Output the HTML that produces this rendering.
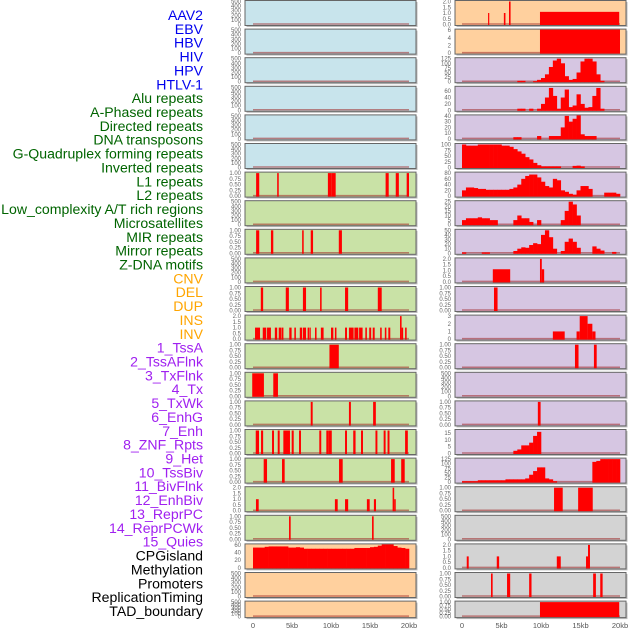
<!DOCTYPE html>
<html><head><meta charset="utf-8"><style>
html,body{margin:0;padding:0;background:#fff;}
svg{display:block;font-family:"Liberation Sans",sans-serif;}
</style></head><body>
<svg id="chart" width="630" height="630" viewBox="0 0 630 630"></svg>
<script>
const labels = ["AAV2","EBV","HBV","HIV","HPV","HTLV-1","Alu repeats","A-Phased repeats","Directed repeats","DNA transposons","G-Quadruplex forming repeats","Inverted repeats","L1 repeats","L2 repeats","Low_complexity A/T rich regions","Microsatellites","MIR repeats","Mirror repeats","Z-DNA motifs","CNV","DEL","DUP","INS","INV","1_TssA","2_TssAFlnk","3_TxFlnk","4_Tx","5_TxWk","6_EnhG","7_Enh","8_ZNF_Rpts","9_Het","10_TssBiv","11_BivFlnk","12_EnhBiv","13_ReprPC","14_ReprPCWk","15_Quies","CPGisland","Methylation","Promoters","ReplicationTiming","TAD_boundary"];
const labelColors = ["#0000ee","#0000ee","#0000ee","#0000ee","#0000ee","#0000ee","#006400","#006400","#006400","#006400","#006400","#006400","#006400","#006400","#006400","#006400","#006400","#006400","#006400","#ffa500","#ffa500","#ffa500","#ffa500","#ffa500","#a020f0","#a020f0","#a020f0","#a020f0","#a020f0","#a020f0","#a020f0","#a020f0","#a020f0","#a020f0","#a020f0","#a020f0","#a020f0","#a020f0","#a020f0","#000","#000","#000","#000","#000"];
const xTickValues = [0,5,10,15,20];
const xTickLabels = ["0","5kb","10kb","15kb","20kb"];
const ticks500 = [0,100,200,300,400,500];
const ticks1 = [0,0.25,0.5,0.75,1];
const ticks2 = [0,0.5,1,1.5,2];

const L6_bars = [[0.4,0.8,1],[3.1,3.3,1],[9.6,10.1,1],[10.1,10.6,1],[17.0,17.4,1],[18.3,18.7,1],[19.7,20,1]];
const L8_bars = [[0.4,0.8,1],[2.3,2.6,1],[6.3,6.5,1],[7.4,7.7,1],[11.0,11.4,1]];
const L10_bars = [[1.0,1.3,1],[4.2,4.6,1],[6.4,6.8,1],[8.6,8.8,1],[11.8,12.2,1],[16.0,16.5,1]];
const L11_bars = [[0.26,0.9,1],[1.25,1.7,1],[1.8,2.3,1],[2.8,3.1,1],[3.3,3.6,1],[3.65,3.9,1],[4.65,4.95,1],[5.3,5.5,1],[6.0,6.3,1],[6.4,6.8,1],[7.0,7.2,1],[7.25,7.4,1],[7.95,8.15,1],[8.7,9.05,1],[10.0,10.3,1],[10.5,10.7,1],[11.8,12.05,1],[12.3,12.9,1],[13.0,13.5,1],[13.6,14.05,1],[14.4,14.6,1],[14.9,15.15,1],[15.35,15.6,1],[16.3,16.5,1],[16.9,17.1,1],[17.35,17.6,1],[18.85,19.05,2],[19.05,19.25,1],[19.5,19.7,1]];
const L12_bars = [[9.8,11.0,1]];
const L13_bars = [[-0.1,1.4,1],[2.6,3.2,1]];
const L14_bars = [[7.4,7.65,1],[12.3,12.55,1],[15.4,15.75,1]];
const L15_bars = [[0.35,0.77,1],[1.03,1.3,1],[2.44,2.69,1],[3.17,3.42,1],[3.89,4.23,1],[4.23,4.58,1],[4.5,4.74,1],[4.96,5.22,1],[5.9,6.15,1],[8.5,8.75,1],[9.4,9.65,1],[9.65,10.1,1],[11.8,12.05,1],[12.85,13.15,1],[13.85,14.1,1],[15.7,15.95,1],[16.75,17.0,1],[17.25,17.5,1],[19.5,19.85,1]];
const L16_bars = [[1.37,1.8,1],[3.72,4.06,1],[11.03,11.5,1],[17.7,18.17,1],[19.0,19.45,1]];
const L17_bars = [[0.38,0.73,1],[10.5,10.86,1],[11.8,12.2,1],[14.6,14.96,1],[15.5,15.77,1],[17.9,18.1,2],[18.1,18.3,1]];
const L18_bars = [[4.62,4.83,1],[15.26,15.47,1]];
const L19_profile = [53,53,53,55,56,56,56,56,56,53,53,54,53,50,50,50,50,50,50,50,50,50,50,50,50,50,52,52,52,52,54,55,58,62,65,63,57,53,52,50];

const R0_bars = [[3.3,3.45,1],[5.3,5.5,1],[5.95,6.15,2],[9.87,19.9,1.1]];
const R1_bars = [[9.87,20,6.5]];
const R2_profile = [0,0,0,0,0,0,0,0,0,0,0,0,0,0,5,5,0,0,3,10,20,40,80,115,125,100,30,10,15,50,110,125,125,110,40,5,0,0,0,0];
const R3_profile = [0,0,0,0,0,0,0,0,0,0,0,0,0,0,5,5,0,5,0,5,20,40,70,45,5,40,65,10,15,50,20,8,10,45,70,5,0,0,0,0];
const R4_profile = [0,0,0,0,0,0,0,0,0,0,0,0,0,3,3,0,0,0,0,5,0,0,5,5,5,20,40,30,35,45,8,5,5,5,0,0,0,0,0,0];
const R5_profile = [100,95,95,95,100,100,100,100,100,100,95,95,90,80,70,60,45,35,20,10,5,5,5,5,5,0,0,0,7,8,5,0,0,0,0,0,0,0,0,0];
const R6_profile = [20,30,30,28,25,25,22,22,22,22,22,22,25,30,40,60,70,75,75,65,50,35,30,60,55,20,15,8,5,20,35,35,25,0,0,0,12,12,12,8];
const R7_profile = [5,7,7,7,8,7,7,5,5,0,0,0,0,5,10,7,7,3,0,5,0,0,0,0,0,5,15,25,22,10,0,0,0,0,0,0,0,0,0,0];
const R8_profile = [2,0,0,0,0,2,2,0,0,0,0,0,0,5,10,13,12,18,22,20,40,50,35,10,0,5,25,32,25,12,0,0,0,15,10,6,0,0,3,0];
const R9_bars = [[3.9,6.1,1.1],[9.87,10.1,2],[10.1,10.4,1.1]];
const R10_bars = [[4.05,4.5,1]];
const R11_bars = [[11.5,13.0,1],[14.5,14.9,1],[14.9,15.9,3],[15.9,16.5,2],[16.5,16.9,1]];
const R12_bars = [[14.3,14.75,1],[16.7,17.05,1]];
const R14_bars = [[9.6,9.95,1]];
const R15_profile = [0,0,0,0,0,0,0,0,0,0,0,0,0,2,3,6,6,8,13,16,0,0,0,0,0,0,0,0,0,0,0,0,0,0,0,0,0,0,0,0];
const R16_profile = [5,5,5,5,10,10,10,10,10,10,10,15,15,15,15,15,20,40,60,80,80,20,15,5,0,0,0,0,0,0,0,0,0,110,115,125,125,125,125,125];
const R17_bars = [[11.65,12.75,1],[14.7,16.55,1]];
const R19_bars = [[0.6,0.85,1],[4.4,4.7,1],[12.0,12.5,1],[15.7,15.95,1],[15.95,16.2,2]];
const R20_bars = [[3.67,3.88,1],[5.7,6.1,1],[8.5,8.8,1],[16.6,16.95,1],[17.5,17.8,1]];
const R21_bars = [[9.87,19.9,1]];

const BLUE="#c8e4ec", GREEN="#c9e2a6", ORANGE="#ffd09e", LAV="#d6c6e2", GRAY="#d3d3d3";
const leftPanels = [
 {bg:BLUE,ticks:ticks500},{bg:BLUE,ticks:ticks500},{bg:BLUE,ticks:ticks500},{bg:BLUE,ticks:ticks500},{bg:BLUE,ticks:ticks500},{bg:BLUE,ticks:ticks500},
 {bg:GREEN,ticks:ticks1,bars:L6_bars},{bg:GREEN,ticks:ticks500},{bg:GREEN,ticks:ticks1,bars:L8_bars},{bg:GREEN,ticks:ticks500},
 {bg:GREEN,ticks:ticks1,bars:L10_bars},{bg:GREEN,ticks:ticks2,bars:L11_bars},{bg:GREEN,ticks:ticks1,bars:L12_bars},{bg:GREEN,ticks:ticks1,bars:L13_bars},
 {bg:GREEN,ticks:ticks1,bars:L14_bars},{bg:GREEN,ticks:ticks1,bars:L15_bars},{bg:GREEN,ticks:ticks1,bars:L16_bars},{bg:GREEN,ticks:ticks2,bars:L17_bars},
 {bg:GREEN,ticks:ticks1,bars:L18_bars},{bg:ORANGE,ticks:[0,20,40,60],profile:L19_profile},{bg:ORANGE,ticks:ticks500},{bg:ORANGE,ticks:ticks500}
];
const rightPanels = [
 {bg:ORANGE,ticks:ticks2,bars:R0_bars},{bg:ORANGE,ticks:[0,2,4,6],bars:R1_bars},
 {bg:LAV,ticks:[0,25,50,75,100,125],profile:R2_profile},{bg:LAV,ticks:[0,20,40,60],max:72,profile:R3_profile},
 {bg:LAV,ticks:[0,10,20,30,40],profile:R4_profile},{bg:LAV,ticks:[0,25,50,75,100],profile:R5_profile},
 {bg:LAV,ticks:[0,20,40,60,80],profile:R6_profile},{bg:LAV,ticks:[0,5,10,15,20,25],profile:R7_profile},
 {bg:LAV,ticks:[0,10,20,30,40,50],profile:R8_profile},{bg:LAV,ticks:ticks2,bars:R9_bars},
 {bg:LAV,ticks:ticks1,bars:R10_bars},{bg:LAV,ticks:[0,1,2,3],bars:R11_bars},
 {bg:LAV,ticks:ticks1,bars:R12_bars},{bg:LAV,ticks:ticks500},{bg:LAV,ticks:ticks1,bars:R14_bars},
 {bg:LAV,ticks:[0,5,10,15],max:17,profile:R15_profile},{bg:LAV,ticks:[0,25,50,75,100,125],profile:R16_profile},
 {bg:GRAY,ticks:ticks1,bars:R17_bars},{bg:GRAY,ticks:ticks500},{bg:GRAY,ticks:ticks2,bars:R19_bars},
 {bg:GRAY,ticks:ticks1,bars:R20_bars},{bg:GRAY,ticks:ticks1,bars:R21_bars}
];

const NS="http://www.w3.org/2000/svg";
const svg=document.getElementById('chart');
function mk(tag,attrs,parent){const e=document.createElementNS(NS,tag);for(const k in attrs)e.setAttribute(k,attrs[k]);(parent||svg).appendChild(e);return e;}

labels.forEach((t,i)=>{
  const el=mk('text',{x:203,y:(15+i*13.86+5).toFixed(1),'text-anchor':'end','font-size':'14.1',fill:labelColors[i]});
  el.textContent=t;
  
  
});

function drawPanel(p,i,col,x0,x1,k0,k20){
  const top=i*28.6+0.5;
  const h=(i===21)?16.5:25;
  const g=mk('g',{});
  
  
  mk('rect',{x:x0+1.5,y:top+1.5,width:x1-x0,height:h,fill:'#bbb'},g);
  mk('rect',{x:x0,y:top,width:x1-x0,height:h,fill:p.bg,stroke:'#666','stroke-width':1},g);
  const max=p.max||p.ticks[p.ticks.length-1];
  const yS=v=>top+h-1-Math.min(v,max*1.05)/max*(h-2);
  const xS=kb=>k0+kb*(k20-k0)/20;
  p.ticks.forEach(t=>{
    const tl=mk('text',{x:x0-4,y:(yS(t)+2).toFixed(1),'text-anchor':'end','font-size':'6',fill:'#666'},g);
    tl.textContent=(p.ticks===ticks1)?t.toFixed(2):(p.ticks===ticks2?t.toFixed(1):String(t));
    
    
  });
  mk('line',{x1:xS(0),x2:xS(20),y1:top+h-1.5,y2:top+h-1.5,stroke:'rgba(160,40,40,0.55)','stroke-width':1.5},g);
  if(p.bars){p.bars.forEach(b=>{
    const xa=Math.max(xS(b[0]),x0+0.5), xb=Math.min(xS(b[1]),x1-0.5);
    const yt=Math.max(yS(b[2]),top+0.5);
    const r=mk('rect',{x:xa,y:yt,width:Math.max(xb-xa,1.2),height:top+h-yt-0.5,fill:'#ff0000'},g);
    
    
  });}
  if(p.profile){p.profile.forEach((v,j)=>{
    if(v<=0)return;
    const xa=xS(j*0.5), xb=xS(j*0.5+0.5);
    const yt=Math.max(yS(v),top+0.5);
    const r=mk('rect',{x:xa,y:yt,width:xb-xa+0.3,height:top+h-yt-0.5,fill:'#ff0000'},g);
    
    
  });}
}
leftPanels.forEach((p,i)=>drawPanel(p,i,'left',245,416,253,409));
rightPanels.forEach((p,i)=>drawPanel(p,i,'right',455,626,462,620));

[[253,409],[462,620]].forEach((r,c)=>{
  xTickValues.forEach((v,j)=>{
    const t=mk('text',{x:r[0]+v*(r[1]-r[0])/20,y:628,'text-anchor':'middle','font-size':'7.5',fill:'#555'});
    t.textContent=xTickLabels[j];
    
    
  });
});
</script>
</body></html>
